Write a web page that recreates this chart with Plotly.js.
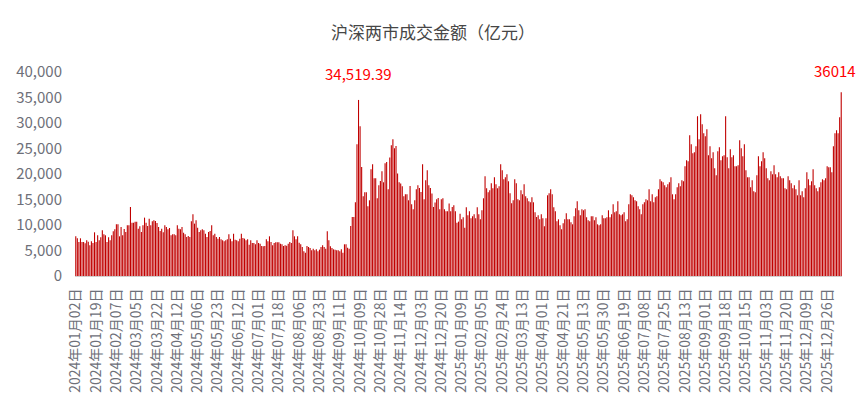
<!DOCTYPE html>
<html>
<head>
<meta charset="utf-8">
<script src="https://cdn.plot.ly/plotly-3.0.1.min.js"></script>
<style>html,body{margin:0;padding:0;background:#fff;}#chart{width:866px;height:412px;}</style>
</head>
<body>
<div id="chart"></div>
<script>
// Trading calendar (Shanghai/Shenzhen): weekdays minus exchange holidays
const startDate = "2024-01-02";
const endDate = "2026-01-12";
const holidays = [
  "2024-01-01","2024-02-09","2024-02-12","2024-02-13","2024-02-14","2024-02-15","2024-02-16",
  "2024-04-04","2024-04-05","2024-05-01","2024-05-02","2024-05-03","2024-06-10",
  "2024-09-16","2024-09-17","2024-10-01","2024-10-02","2024-10-03","2024-10-04","2024-10-07",
  "2025-01-01","2025-01-28","2025-01-29","2025-01-30","2025-01-31","2025-02-03","2025-02-04",
  "2025-04-04","2025-05-01","2025-05-02","2025-05-05","2025-06-02",
  "2025-10-01","2025-10-02","2025-10-03","2025-10-06","2025-10-07","2025-10-08",
  "2026-01-01","2026-01-02"
];

// Turnover (亿元), in calendar order
const turnover2024a = [
  7783,7390,6671,7390,6671,6671,6409,6998,6736,6017,
  6802,6475,8567,6671,7979,6998,7586,8960,8175,7979,
  6671,7586,6998,7979,8764,9156,10137,10137,7783,9614,
  7979,9221,8633,9941,9941,13538,10464,10464,10660,10660,
  9287,9745,8633,9941,11445,10464,9810,11249,9941,10726,10922
];
const turnover2024b = [
  10791,10399,9614,8829,9287,8567,9941,9614,9156,9418,
  7979,8175,8175,7979,9941,9287,9156,9614,8502,8175,
  7652,7848,7652,10726,12099,10268,10922,9483,8633,8960,
  9156,8960,8306,7652,8633,8829,9941,7979,8306,7652,
  7325,7652,7194,6998,6802,6998,7194,8175,7325,6802,
  8306,7129,6998,6802,7325,8306,7456,7325,6998,7194,6148
];
const turnover2024c = [
  6998,6475,6475,6213,6998,6475,6344,5886,5821,5886,
  7194,6802,7783,6671,6017,6475,6605,6605,6605,6344,
  6213,5886,6017,5951,6344,6671,6475,8960,7783,7194,
  7783,6540,6213,5690,4840,4578,5886,5690,5494,5036,
  5363,5036,5232,4840,5167,5690,6017,5690,5363,8764,
  6998,5821,5494,5232,5167,5036,5036,4840,5232,4578,6213
];
const turnover2024d = [
  6213,5559,5363,9810,11576,11576,14453,25833,34519.39,29365,
  21386,15631,16415,16415,13669,14846,20928,21909,19162,19162,
  15238,17789,18639,20536,18377,22105,22367,17004,23217,25637,
  26814,25048,25506,20078,18377,18116,17593,15631,16023,16023,
  14846,17658,14061,13080,14846,17004,17789,17266,16481,21909,
  15042,18770,20732,17789,17266,16154,13538,14388,15042,15304,13080
];
const turnover2025a = [
  15042,15238,13080,12688,12688,14192,12688,13538,13865,12688,
  10464,10660,12230,11118,11510,9483,13472,11903,12688,11314,
  11707,12099,11314,13472,12099,11118,12884,15238,19555,17200,
  16415,16808,18181,17200,19358,17985,17200,17593,21909,20732,
  18966,19358,19947,18574,16219,14257,14846,18966,18181,15042,
  14846,16808,16023,17985,15631,15238,14650,14453,15434,14453
];
const turnover2025b = [
  12491,11576,11903,11118,12099,11314,9745,11314,15827,16219,
  17004,16023,13472,12688,10726,11118,9941,9156,10333,11118,
  12295,11118,11118,10529,10137,11707,13276,14650,12884,11903,
  13080,12884,13080,11510,10922,10726,11707,11707,10922,11510,
  10137,9941,10137,11903,11314,11314,11510,12884,11510,12099,
  14061,12491,12688,14650,12099,11903,12099,12491,10726,11118,14061
];
const turnover2025c = [
  16023,15827,15434,14846,14650,13669,13080,12099,14061,14453,
  15042,14846,17004,14650,16023,14453,15434,15631,17004,18966,
  18574,18377,17789,17396,17985,18377,19358,16023,15042,16023,
  17396,18181,17593,18770,18574,21517,22694,22498,27599,25833,
  24067,24263,25441,31327,26814,31719,29757,27991,27403,28776,
  23675,25441,23086,24263,21124,19751,24460,25244,22694,23479,23675
];
const turnover2025d = [
  31327,23282,21124,24852,23282,23675,21517,21517,21713,26618,
  25048,23479,25833,20732,19358,19358,17396,18770,16612,16415,
  19751,23479,21517,22498,24263,23086,21124,19162,18770,20536,
  19947,21713,19947,19358,20339,19555,19162,19162,17200,17004,19555
];
const turnover2025e = [
  18770,18181,17200,17789,17004,15827,18770,15827,16612,15434,
  17200,20339,18966,17789,18574,20928,17789,17200,16612,17396,
  18377,18966,18770,19162,21517,21320,21320,20339,25441,27991,
  28580,27991,31130,36014
];

const values = [].concat(turnover2024a, turnover2024b, turnover2024c, turnover2024d,
  turnover2025a, turnover2025b, turnover2025c, turnover2025d, turnover2025e);

const titleText = "沪深两市成交金额（亿元）";
const peakLabel = "34,519.39";
const lastLabel = "36014";

function pad(n){ return (n < 10 ? "0" : "") + n; }
const holidaySet = new Set(holidays);
const dates = [];
(function(){
  const d = new Date(startDate + "T00:00:00Z");
  const end = new Date(endDate + "T00:00:00Z");
  while (d <= end) {
    const wd = d.getUTCDay();
    const iso = d.getUTCFullYear() + "-" + pad(d.getUTCMonth()+1) + "-" + pad(d.getUTCDate());
    if (wd !== 0 && wd !== 6 && !holidaySet.has(iso)) {
      dates.push(d.getUTCFullYear() + "年" + pad(d.getUTCMonth()+1) + "月" + pad(d.getUTCDate()) + "日");
    }
    d.setUTCDate(d.getUTCDate() + 1);
  }
})();

const labelEvery = 13;
const tickVals = dates.filter((_, i) => i % labelEvery === 0);

let peakIdx = 0;
values.forEach((v, i) => { if (i < 300 && v > values[peakIdx]) peakIdx = i; });
const lastIdx = values.length - 1;

const font = "'Noto Sans CJK SC', 'Noto Sans', sans-serif";

Plotly.newPlot("chart", [{
  type: "bar",
  x: dates.slice(0, values.length),
  y: values,
  marker: { color: "#c00000" },
  hoverinfo: "x+y"
}], {
  width: 866, height: 412,
  margin: { l: 75, r: 24, t: 72, b: 136, pad: 0 },
  paper_bgcolor: "#fff", plot_bgcolor: "#fff",
  bargap: 0.3,
  showlegend: false,
  font: { family: font },
  title: { text: titleText, x: 0.5, xanchor: "center", y: 0.92, yanchor: "middle",
           font: { size: 17, color: "#464646", family: font } },
  xaxis: {
    type: "category",
    range: [-0.5, values.length - 0.5],
    tickvals: tickVals, ticktext: tickVals,
    tickangle: -90,
    ticklabelstandoff: 6,
    tickfont: { size: 14, color: "#6e7079", family: font },
    showline: true, linecolor: "#d0d0d0", linewidth: 1,
    ticks: "", showgrid: false, zeroline: false
  },
  yaxis: {
    range: [0, 40000], dtick: 5000, tick0: 0,
    tickformat: ",d",
    ticklabelstandoff: 12,
    tickfont: { size: 15, color: "#6e7079", family: font },
    showgrid: false, zeroline: false, showline: false, ticks: ""
  },
  annotations: [
    { x: dates[peakIdx], y: values[peakIdx], text: peakLabel, showarrow: false,
      xanchor: "center", yanchor: "bottom", yshift: 14,
      font: { size: 15, color: "#ff0000", family: font } },
    { x: dates[lastIdx], y: values[lastIdx], text: lastLabel, showarrow: false,
      xanchor: "center", yanchor: "bottom", yshift: 9, xshift: -6,
      font: { size: 15, color: "#ff0000", family: font } }
  ]
}, { displayModeBar: false, staticPlot: true });
</script>
</body>
</html>
